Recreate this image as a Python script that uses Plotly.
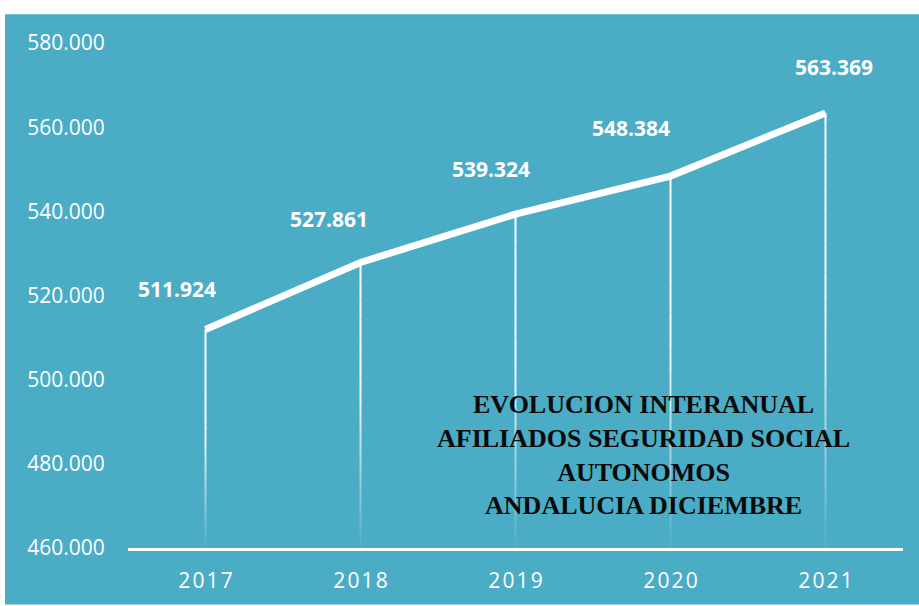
import plotly.graph_objects as go

# ---- data ----
years = ["2017", "2018", "2019", "2020", "2021"]
values = [511924, 527861, 539324, 548384, 563369]
year_labels = ["2\u200a0\u200a1\u200a7", "2\u200a0\u200a1\u200a8", "2\u200a0\u200a1\u200a9",
               "2\u200a0\u200a2\u200a0", "2\u200a0\u200a2\u200a1"]
y_ticks = [460000, 480000, 500000, 520000, 540000, 560000, 580000]
label_dx = [-29, -32, -25, -40, 8]
label_dy = [40, 43, 45, 48, 46]
title_lines = ["EVOLUCION INTERANUAL", "AFILIADOS SEGURIDAD SOCIAL", "AUTONOMOS", "ANDALUCIA DICIEMBRE"]

BG = "#4BACC6"
W, H = 919, 606
ML, MR, MT, MB = 128, 16, 43, 52
Y0, Y1 = 460000, 580000

def fmt(v):
    return f"{v:,}".replace(",", ".")

fig = go.Figure()

# gradient drop lines (white at top, fading toward the baseline)
N = 30
for k in range(N):
    t0, t1 = k / N, (k + 1) / N  # fraction from bottom
    alpha = min(1.0, 0.04 + ((t0 + t1) / 2) / 0.6)
    xs, ys = [], []
    for yr, v in zip(years, values):
        xs += [yr, yr, None]
        ys += [Y0 + (v - Y0) * t0, Y0 + (v - Y0) * t1, None]
    fig.add_trace(go.Scatter(x=xs, y=ys, mode="lines",
                             line=dict(color=f"rgba(255,255,255,{alpha:.3f})", width=2),
                             hoverinfo="skip", showlegend=False))

# main line
fig.add_trace(go.Scatter(x=years, y=values, mode="lines",
                         line=dict(color="white", width=7), showlegend=False))

# data labels
for i, (v, dx, dy) in enumerate(zip(values, label_dx, label_dy)):
    fig.add_annotation(x=i, y=v, xref="x", yref="y", text=f"<b>{fmt(v)}</b>", showarrow=False,
                       xshift=dx, yshift=dy, xanchor="center", yanchor="middle",
                       font=dict(family="Open Sans", size=21, color="white"))

# title block
pw = W - ML - MR
ph = H - MT - MB
fig.add_annotation(xref="paper", yref="paper",
                   x=(643 - ML) / pw, y=(H - MB - 460) / ph,
                   text="<br>".join(f"<b>{t}</b>" for t in title_lines),
                   showarrow=False, align="center", xanchor="center", yanchor="middle",
                   font=dict(family="Liberation Serif", size=26, color="#0a0a0a"))

# background panel (white strips top/left)
fig.add_shape(type="rect", xref="paper", yref="paper", layer="below",
              x0=(5 - ML) / pw, x1=(W - ML) / pw + 0.01,
              y0=-MB / ph - 0.01, y1=(H - MB - 14) / ph,
              fillcolor=BG, line=dict(width=0))

fig.update_layout(
    width=W, height=H,
    margin=dict(l=ML, r=MR, t=MT, b=MB),
    paper_bgcolor="white", plot_bgcolor="rgba(0,0,0,0)",
    separators=",.",
    showlegend=False,
    xaxis=dict(type="category", categoryorder="array", categoryarray=years,
               range=[-0.5, 4.5], tickvals=years, ticktext=year_labels,
               showgrid=False, zeroline=False,
               showline=True, linecolor="white", linewidth=2.5,
               ticks="outside", ticklen=12, tickcolor="rgba(0,0,0,0)",
               tickfont=dict(family="Open Sans", size=21, color="white")),
    yaxis=dict(range=[Y0, Y1], tickvals=y_ticks, tickformat=",d",
               showgrid=False, zeroline=False, showline=False,
               ticks="outside", ticklen=18, tickcolor="rgba(0,0,0,0)",
               tickfont=dict(family="Open Sans", size=21, color="white")),
)

fig.write_html("out.html", config={"displayModeBar": False},
               post_script="document.body.style.margin='0';document.body.style.overflow='hidden';")
